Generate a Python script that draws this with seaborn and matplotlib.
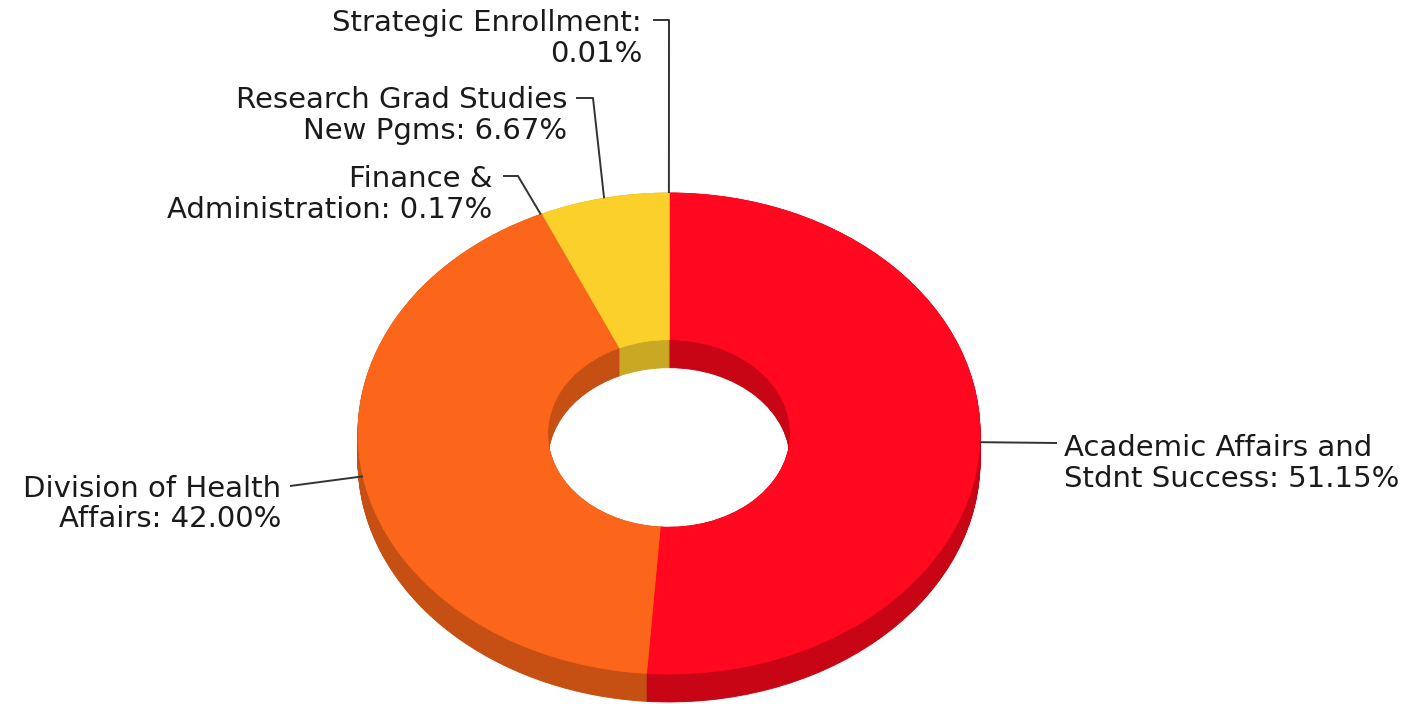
import matplotlib
matplotlib.use("Agg")
import matplotlib.pyplot as plt
import seaborn as sns
import numpy as np

# data
categories = [
    "Academic Affairs and\nStdnt Success",
    "Division of Health\nAffairs",
    "Finance &\nAdministration",
    "Research Grad Studies\nNew Pgms",
    "Strategic Enrollment:\n",
]
shares = [51.15, 42.00, 0.17, 6.67, 0.01]
top_colors = ["#FF0820", "#FC661A", "#F26A1E", "#FBD02A", "#FBD02A"]
side_colors = ["#C80515", "#C64F14", "#C04E14", "#C9A823", "#C9A823"]

# layout (pixels on a 1428x704 canvas)
W, H = 1428, 704
cx, cy, rx, ry = 669, 433.5, 311, 240.5
depth_px = 28
hole = 0.39

def px(x, y):
    return (x - cx) / rx, (cy - y) / ry

# text anchor (x, y-center, ha) and elbow point of the leader line
label_pos = [(1064, 463.5, "left"), (281, 504, "right"), (492, 194.5, "right"),
             (567, 115.5, "right"), (642, 38.5, "right")]
elbows = [(1057, 443), (290, 486), (503, 176), (576, 98), (653, 20)]
knees = [None, None, (518, 176), (593, 98), (669, 20)]

sns.set_style("white")
plt.rcParams["font.family"] = ["DejaVu Sans"]

fig = plt.figure(figsize=(W / 100, H / 100), dpi=100)
ax = fig.add_axes([0, 0, 1, 1])

# extruded side: stack of darker donuts shifted downward
depth = depth_px / ry
n_layers = 40
for k in np.linspace(depth, 0, n_layers):
    ax.pie(shares, colors=side_colors, startangle=90, counterclock=False,
           radius=1, center=(0, -k),
           wedgeprops=dict(width=1 - hole, linewidth=0.6))
    for w in ax.patches[-len(shares):]:
        w.set_edgecolor(w.get_facecolor())

# top face
wedges, _ = ax.pie(shares, colors=top_colors, startangle=90, counterclock=False,
                   radius=1, center=(0, 0),
                   wedgeprops=dict(width=1 - hole, linewidth=0.6))
for w in wedges:
    w.set_edgecolor(w.get_facecolor())

ax.set_aspect("auto")
ax.set_xlim(-cx / rx, (W - cx) / rx)
ax.set_ylim((cy - H) / ry, cy / ry)
ax.axis("off")

# labels and leader lines
cum = np.cumsum([0] + shares[:-1])
for i, name in enumerate(categories):
    mid = np.deg2rad(90 - (cum[i] + shares[i] / 2) * 3.6)
    pts = [px(*elbows[i])]
    if knees[i] is not None:
        pts.append(px(*knees[i]))
    pts.append((np.cos(mid), np.sin(mid)))
    xs, ys = zip(*pts)
    ax.plot(xs, ys, color="#333333", lw=1.4, solid_capstyle="butt", zorder=5)

    if name.endswith(":\n"):
        text = name + f"{shares[i]:.2f}%"
    else:
        text = name + f": {shares[i]:.2f}%"
    tx, ty, ha = label_pos[i]
    ax.text(*px(tx, ty), text, ha=ha, va="center", multialignment=ha,
            fontsize=21, color="#1a1a1a", linespacing=1.12)

fig.savefig("out.png", dpi=100)
plt.close(fig)
